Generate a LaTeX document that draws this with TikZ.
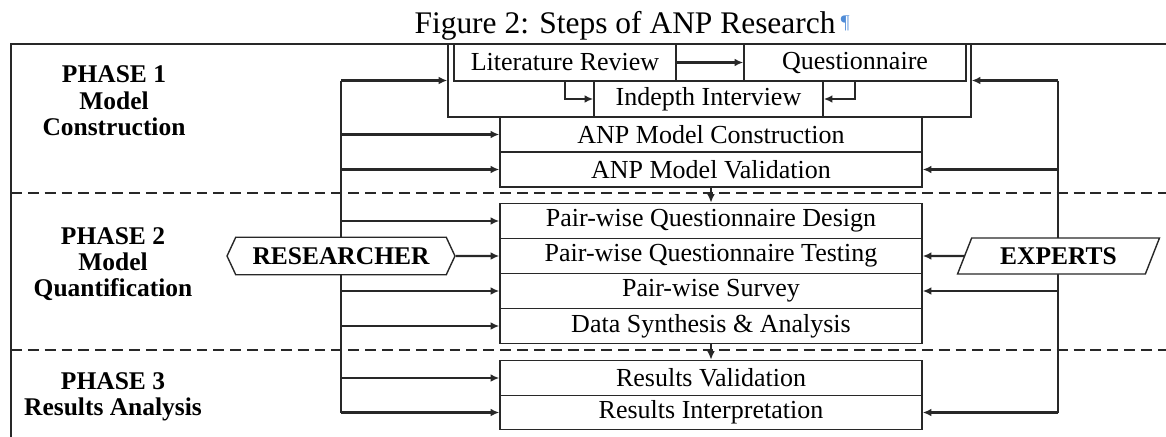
\documentclass[tikz,border=0pt]{standalone}
\usepackage{fontspec}
\setmainfont{Liberation Serif}
\usetikzlibrary{arrows.meta,shapes.geometric,shapes.symbols}
\definecolor{markblue}{RGB}{80,140,215}
\definecolor{inkgray}{RGB}{40,40,40}
\begin{document}
\begin{tikzpicture}[x=0.02cm,y=-0.02cm,line width=0.8pt,draw=inkgray,
    stepbox/.style={draw,inner sep=0pt,minimum height=0.7cm,font=\fontsize{14.8}{16}\selectfont},
    column/.style={stepbox,minimum width=8.44cm},
    phase/.style={align=center,font=\fontsize{14.5}{15}\selectfont\bfseries},
    actor/.style={draw,fill=white,inner sep=0pt,minimum height=0.75cm,font=\fontsize{14.5}{16}\selectfont\bfseries},
    sep/.style={line width=1.2pt,dash pattern=on 6.2pt off 3.4pt},
    link/.style={line width=1.2pt,-{Latex[length=5pt,width=4.4pt]}}]
      \useasboundingbox (0,0) rectangle (1166,436);
      \clip (0,0) rectangle (1166,436);
      \draw[line width=0.9pt] (1200,44) -| (11,470);
      \draw[sep] (11,193) -- (1200,193);
      \draw[sep] (11,350) -- (1200,350);
      \draw
        (408,33) node[anchor=base west,font=\fontsize{17.9}{20}\selectfont] (title)
          {Figure 2: Steps of ANP Research\,\textcolor{markblue}{\fontsize{11}{12}\selectfont\raisebox{0.5ex}{¶}}}
        (709.5,80.5) node[draw,minimum width=10.46cm,minimum height=1.46cm] (grp){}
        (565,62.5) node[stepbox,minimum width=4.44cm,minimum height=0.74cm] (lit){Literature Review}
        (855,62.5) node[stepbox,minimum width=4.44cm,minimum height=0.74cm] (quest){Questionnaire}
        (708.5,99) node[stepbox,minimum width=4.58cm,minimum height=0.72cm] (indepth){Indepth Interview}
        (711,134.5) node[column] (anpc){ANP Model Construction}
        (711,169.5) node[column] (anpv){ANP Model Validation}
        (711,221) node[column] (pwd){Pair-wise Questionnaire Design}
        (711,256) node[column] (pwt){Pair-wise Questionnaire Testing}
        (711,291) node[column] (pws){Pair-wise Survey}
        (711,326) node[column] (dsa){Data Synthesis \& Analysis}
        (711,378) node[column] (rv){Results Validation}
        (711,412.5) node[column,minimum height=0.69cm] (ri){Results Interpretation}
        (114,101) node[phase] (ph1){PHASE 1\\Model\\Construction}
        (113,264) node[phase] (ph2){PHASE 2\\Model\\Quantification}
        (113,397) node[phase] (ph3){PHASE 3\\Results Analysis};
      \coordinate (rbus) at (341,0);
      \coordinate (ebus) at (1058,0);
      \draw[line width=1.2pt] (grp.west -| rbus) -- (ri.west -| rbus);
      \draw[line width=1.2pt] (grp.east -| ebus) -- (ri.east -| ebus);
      \draw
        (341,256) node[actor,signal,signal to=east and west,signal pointer angle=130,minimum width=4.56cm] (researcher){RESEARCHER}
        (1058.5,256) node[actor,trapezium,trapezium left angle=61,trapezium right angle=119,trapezium stretches=true,minimum width=4.06cm,minimum height=0.72cm] (experts){EXPERTS};
      \begin{scope}[link]
        \draw (lit) to (quest);
        \draw (lit.south) |- (indepth.west);
        \draw (quest.south) |- (indepth.east);
        \draw (anpv) to (pwd);
        \draw (dsa) to (rv);
        \draw (grp.west -| rbus) to (grp.west);
        \draw (anpc.west -| rbus) to (anpc.west);
        \draw (anpv.west -| rbus) to (anpv.west);
        \draw (pwd.west -| rbus) to (pwd.west);
        \draw (researcher) to (pwt.west);
        \draw (pws.west -| rbus) to (pws.west);
        \draw (dsa.west -| rbus) to (dsa.west);
        \draw (rv.west -| rbus) to (rv.west);
        \draw (ri.west -| rbus) to (ri.west);
        \draw (grp.east -| ebus) to (grp.east);
        \draw (anpv.east -| ebus) to (anpv.east);
        \draw (experts) to (pwt.east);
        \draw (pws.east -| ebus) to (pws.east);
        \draw (ri.east -| ebus) to (ri.east);
      \end{scope}
    \end{tikzpicture}
\end{document}
